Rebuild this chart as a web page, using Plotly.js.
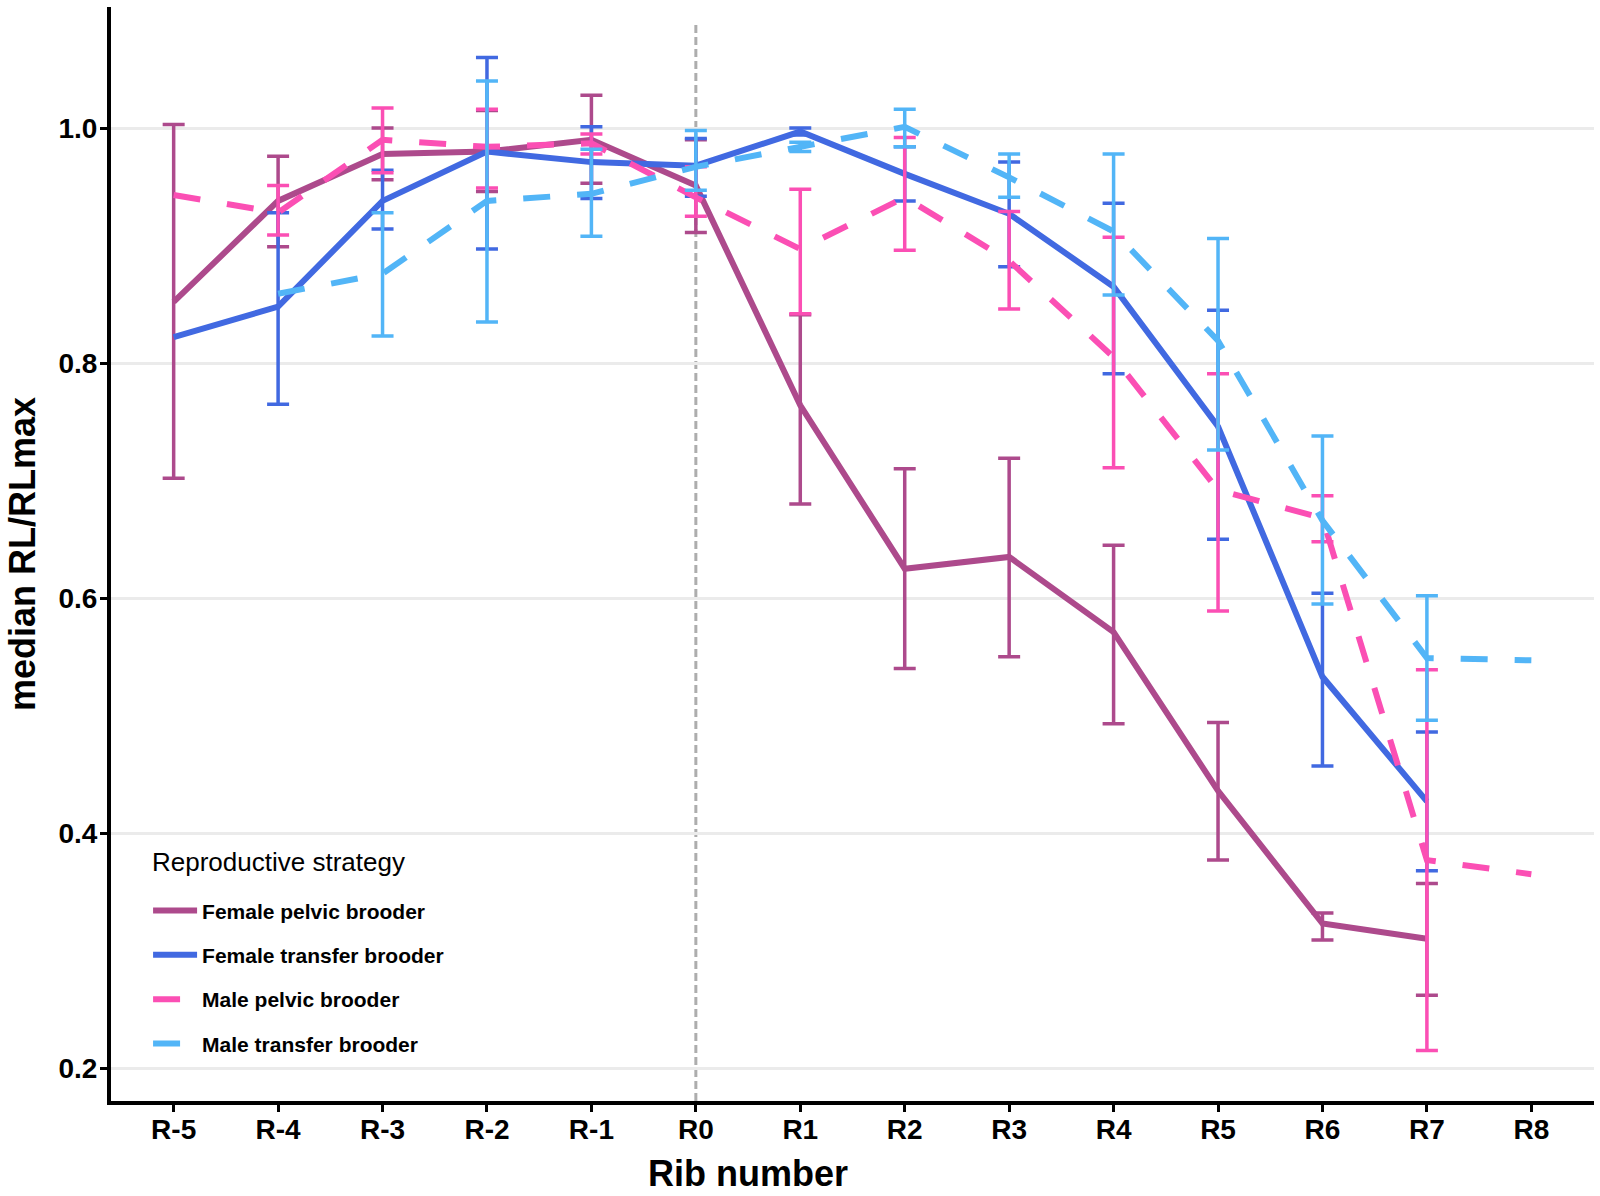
<!DOCTYPE html>
<html><head><meta charset="utf-8">
<script src="https://cdn.plot.ly/plotly-3.0.1.min.js"></script>
<style>html,body{margin:0;padding:0;background:#fff}</style>
</head><body>
<div id="chart" style="width:1600px;height:1196px"></div>
<script>
// Categories (rib number)
const ribs = ["R-5","R-4","R-3","R-2","R-1","R0","R1","R2","R3","R4","R5","R6","R7","R8"];

// Female pelvic brooder
const fpX  = ["R-5","R-4","R-3","R-2","R-1","R0","R1","R2","R3","R4","R5","R6","R7"];
const fpY  = [0.852,0.938,0.978,0.980,0.990,0.951,0.764,0.625,0.635,0.571,0.436,0.323,0.310];
const fpLo = [0.702,0.899,0.956,0.946,0.953,0.911,0.680,0.540,0.550,0.493,0.377,0.309,0.262];
const fpHi = [1.003,0.976,1.000,1.015,1.028,0.990,0.841,0.710,0.719,0.645,0.494,0.332,0.357];

// Female transfer brooder
const ftX  = ["R-5","R-4","R-3","R-2","R-1","R0","R1","R2","R3","R4","R5","R6","R7"];
const ftY  = [0.822,0.848,0.938,0.980,0.971,0.968,0.997,0.961,0.927,0.865,0.746,0.533,0.427];
const ftLo = [null,0.765,0.914,0.897,0.940,0.942,0.994,0.938,0.882,0.791,0.650,0.457,0.368];
const ftHi = [null,0.928,0.964,1.060,1.001,0.991,1.000,0.984,0.971,0.936,0.845,0.604,0.486];

// Male pelvic brooder
const mpX  = ["R-5","R-4","R-3","R-2","R-1","R0","R1","R2","R3","R4","R5","R6","R7","R8"];
const mpY  = [0.943,0.928,0.990,0.984,0.987,0.941,0.897,0.941,0.887,0.805,0.692,0.668,0.377,0.365];
const mpLo = [null,0.909,0.962,0.949,0.978,0.925,0.842,0.896,0.846,0.711,0.589,0.648,0.215,null];
const mpHi = [null,0.951,1.017,1.016,0.995,0.967,0.948,0.992,0.929,0.907,0.791,0.687,0.539,null];

// Male transfer brooder
const mtX  = ["R-4","R-3","R-2","R-1","R0","R1","R2","R3","R4","R5","R6","R7","R8"];
const mtY  = [0.859,0.876,0.938,0.944,0.967,0.984,1.001,0.958,0.912,0.819,0.666,0.549,0.547];
const mtLo = [null,0.823,0.835,0.908,0.947,0.980,0.984,0.941,0.858,0.726,0.595,0.496,null];
const mtHi = [null,0.928,1.040,0.982,0.998,0.988,1.016,0.978,0.978,0.906,0.738,0.602,null];

const yTicks = [0.2,0.4,0.6,0.8,1.0];
const yTickText = ["0.2","0.4","0.6","0.8","1.0"];

const names = ["Female pelvic brooder","Female transfer brooder","Male pelvic brooder","Male transfer brooder"];
const colors = ["#AD4A8C","#4169E1","#FB4FB4","#52B5F7"];

const FONT = "Liberation Sans, Arial, Helvetica, sans-serif";

function mk(x, y, lo, hi, i, dashed) {
  const up = y.map((v,k) => hi[k]==null ? NaN : hi[k]-v);
  const dn = y.map((v,k) => lo[k]==null ? NaN : v-lo[k]);
  return {
    type: "scatter", mode: "lines", x: x, y: y, name: names[i],
    legendgroup: "g"+i,
    line: {color: colors[i], width: 6, dash: dashed ? "27px,27px" : "solid"},
    error_y: {type: "data", symmetric: false, array: up, arrayminus: dn,
              color: colors[i], thickness: 3.5, width: 11, visible: true},
    hoverinfo: "x+y+name"
  };
}

const data = [
  mk(fpX, fpY, fpLo, fpHi, 0, false),
  mk(ftX, ftY, ftLo, ftHi, 1, false),
  mk(mpX, mpY, mpLo, mpHi, 2, true),
  mk(mtX, mtY, mtLo, mtHi, 3, true)
];

const tickFont = {size: 28, family: FONT, weight: 700, color: "#000"};

const layout = {
  width: 1600, height: 1196,
  margin: {l: 111, r: 6, t: 7, b: 95, pad: 0},
  paper_bgcolor: "#ffffff", plot_bgcolor: "#ffffff",
  font: {family: FONT, color: "#000000"},
  showlegend: true,
  legend: {
    x: 0.025, y: 0.113, xanchor: "left", yanchor: "middle",
    bgcolor: "rgba(0,0,0,0)", borderwidth: 0,
    traceorder: "grouped", tracegroupgap: 14,
    itemwidth: 44,
    font: {size: 21, family: FONT, weight: 700, color: "#000"}
  },
  xaxis: {
    type: "category", categoryorder: "array", categoryarray: ribs,
    range: [-0.6, 13.6], autorange: false,
    showgrid: false, zeroline: false,
    showline: true, linecolor: "#000", linewidth: 4,
    ticks: "outside", ticklen: 7, tickwidth: 3, tickcolor: "#000",
    ticklabelstandoff: -7,
    tickfont: tickFont,
    fixedrange: true
  },
  yaxis: {
    range: [0.172, 1.103], autorange: false,
    tickvals: yTicks, ticktext: yTickText,
    showgrid: true, gridcolor: "#EBEBEB", gridwidth: 3,
    zeroline: false,
    showline: true, linecolor: "#000", linewidth: 4,
    ticks: "outside", ticklen: 7, tickwidth: 3, tickcolor: "#000",
    ticklabelstandoff: -3,
    tickfont: tickFont,
    fixedrange: true
  },
  shapes: [{
    type: "line", xref: "x", yref: "y", x0: "R0", x1: "R0", y0: 0.172, y1: 1.09,
    line: {color: "#ADADAD", width: 3, dash: "8px,4px"}, layer: "below"
  }],
  annotations: [
    {text: "Reproductive strategy", xref: "paper", yref: "paper", x: 0.0263, y: 0.2185,
     xanchor: "left", yanchor: "middle", showarrow: false,
     font: {size: 26, family: FONT, weight: 400, color: "#000"}},
    {text: "Rib number", xref: "paper", yref: "paper", x: 0.4295, y: -0.066,
     xanchor: "center", yanchor: "middle", showarrow: false,
     font: {size: 36, family: FONT, weight: 700, color: "#000"}},
    {text: "median RL/RLmax", xref: "paper", yref: "paper", x: -0.06, y: 0.5,
     xanchor: "center", yanchor: "middle", textangle: -90, showarrow: false,
     font: {size: 36, family: FONT, weight: 700, color: "#000"}}
  ]
};

Plotly.newPlot("chart", data, layout, {displayModeBar: false, staticPlot: true});
</script>
</body></html>
